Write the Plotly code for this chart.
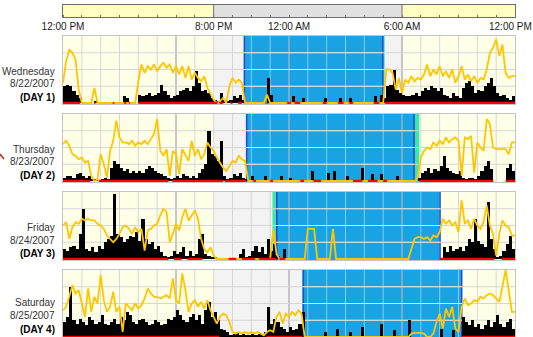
import math
import plotly.graph_objects as go

# ---------------- data ----------------
TICK_HOURS = [0, 8, 12, 18, 24]          # hours after 12:00 PM
TICK_TEXT = ["12:00 PM", "8:00 PM", "12:00 AM", "6:00 AM", "12:00 PM"]
PERIODS = [(0, 8, "light"), (8, 18, "dark"), (18, 24, "light")]

DAY_NAMES = ["Wednesday", "Thursday", "Friday", "Saturday"]
DATES = ["8/22/2007", "8/23/2007", "8/24/2007", "8/25/2007"]
DAY_TAGS = ["(DAY 1)", "(DAY 2)", "(DAY 3)", "(DAY 4)"]

# sleep interval (blue) and the transition strip (green), in hours after noon
SLEEP = [(9.63, 16.98), (9.75, 18.64), (11.35, 20.02), (12.76, 21.17)]
TRANSITION = [(16.98, 17.08), (18.64, 18.92), (11.12, 11.35), (12.70, 12.76)]
MARKERS = [[9.58], [], [], [0.64]]

# light level, 10-minute epochs (144 per day)
LIGHT1 = [1.2, 2.5, 3.2, 3.0, 2.6, 0.8, 0, 0, 0, 0, 0.9, 0,
          0, 0, 0, 0, 0, 0, 0, 0, 0, 0, 0, 0,
          1.3, 2.3, 1.8, 2.2, 2.0, 2.3, 1.9, 2.2, 2.4, 2.1, 2.3, 1.8,
          2.2, 1.7, 2.2, 1.5, 2.2, 1.4, 1.8, 1.5, 1.3, 1.6, 0.9, 0.5,
          0.2, 0, 0.1, 0.3, 0, 1.0, 1.5, 1.2, 1.4, 1.2, 0, 0,
          0, 0, 0, 0, 0, 0.5, 0, 0, 0, 0, 0, 0,
          0, 0, 0, 0, 0, 0, 0, 0, 0, 0, 0, 0,
          0, 0, 0, 0, 0, 0, 0, 0, 0, 0, 0, 0,
          0, 0, 0, 0, 0, 0, 0, 2.0, 2.0, 1.8, 0.8, 1.5,
          0.6, 1.4, 1.2, 1.6, 1.3, 1.5, 1.4, 1.7, 2.3, 1.6, 2.0, 1.7,
          2.2, 1.6, 1.9, 1.5, 2.0, 1.2, 1.6, 2.2, 1.4, 1.7, 1.3, 1.6,
          1.2, 1.5, 1.4, 2.0, 3.0, 3.3, 3.8, 2.8, 3.5, 1.8, 1.5, 1.6]
LIGHT2 = [2.2, 2.4, 2.1, 1.6, 1.5, 1.3, 1.4, 1.1, 1.2, 0.3, 0, 0.1,
          1.6, 1.0, 0.2, 1.8, 2.4, 3.6, 2.6, 2.3, 2.3, 2.2, 2.4, 2.1,
          2.3, 2.2, 2.4, 2.2, 2.5, 2.8, 3.7, 1.8, 1.5, 1.9, 0.3, 1.8,
          1.6, 0.4, 1.9, 1.5, 1.2, 2.4, 1.5, 1.9, 1.3, 1.6, 2.3, 2.0,
          1.8, 1.4, 1.1, 0.8, 0.6, 0.9, 1.2, 1.1, 1.5, 1.3, 1.2, 0,
          0, 0, 0, 0, 0, 0, 0, 0, 0, 0, 0, 0,
          0, 0, 0, 0, 0, 0, 0, 0, 0, 0, 0, 0,
          0, 0, 0, 0, 0, 0, 0, 0, 0, 0, 0, 0,
          0, 0, 0, 0, 0, 0, 0, 0, 0, 0, 0, 0,
          0, 0, 0, 0, 0, 0.2, 1.4, 1.8, 2.0, 1.9, 2.3, 2.1,
          2.4, 2.2, 2.6, 2.3, 2.5, 2.6, 2.4, 0.3, 2.6, 2.5, 2.7, 0.5,
          2.3, 2.0, 1.8, 3.7, 3.4, 2.0, 1.9, 1.9, 1.9, 1.9, 1.6, 2.3]
LIGHT3 = [2.0, 2.2, 1.2, 1.9, 2.2, 2.1, 2.4, 2.3, 2.4, 2.3, 2.3, 2.1,
          2.0, 1.8, 1.4, 1.2, 1.0, 1.2, 1.5, 1.9, 2.0, 1.8, 1.5, 1.9,
          1.6, 1.8, 0.5, 1.7, 1.8, 2.0, 2.1, 2.6, 3.0, 2.8, 1.0, 1.5,
          2.1, 1.7, 2.5, 3.0, 2.3, 2.6, 2.9, 2.4, 1.2, 0.6, 0.4, 0.7,
          0.2, 0, 0, 0, 0, 0, 0, 0, 0, 0, 0, 0,
          0, 0, 0, 0, 0, 0, 0, 1.8, 0.3, 0, 0, 0,
          0, 0, 0, 0, 0, 0, 1.8, 1.8, 1.8, 0, 0, 0,
          0, 0, 1.8, 0, 0, 0, 0, 0, 0, 0, 0, 0,
          0, 0, 0, 0, 0, 0, 0, 0, 0, 0, 0, 0,
          0, 0, 0, 0.6, 1.2, 1.3, 1.3, 1.2, 1.3, 1.1, 1.4, 1.3,
          1.6, 2.4, 2.1, 2.3, 2.0, 2.2, 1.6, 3.5, 2.1, 2.3, 1.8, 2.4,
          2.0, 1.8, 2.2, 3.2, 2.0, 1.5, 0.2, 1.5, 2.3, 2.0, 1.9, 1.4]
LIGHT4 = [1.6, 1.8, 2.4, 3.1, 2.6, 2.8, 2.0, 1.2, 2.9, 1.5, 2.4, 2.0,
          3.7, 2.2, 1.5, 1.8, 2.7, 1.5, 1.8, 0.3, 2.0, 1.8, 1.6, 2.0,
          1.7, 1.9, 2.3, 2.9, 2.6, 2.4, 2.4, 2.3, 2.4, 2.5, 2.3, 3.5,
          2.2, 2.0, 3.8, 2.8, 1.5, 2.0, 2.2, 1.8, 2.1, 1.7, 2.2, 1.6,
          1.2, 0.8, 1.2, 1.4, 1.3, 0.9, 0.3, 0.2, 0.3, 0.2, 0.3, 0.2,
          0.3, 0.2, 0.3, 0.2, 0.1, 0.3, 0.4, 0.3, 1.2, 1.5, 0.8, 1.4,
          1.2, 1.5, 1.3, 1.6, 1.4, 0, 0, 0, 0, 0, 0, 0,
          0, 0, 0, 0, 0, 0, 0, 0, 0, 0, 0, 0,
          0, 0, 0, 0, 0, 0, 0, 0, 0, 0, 0, 0,
          0, 0, 0, 0.2, 0.25, 0.25, 0.25, 0.2, 0, 0, 0.2, 0.9,
          1.4, 0.5, 1.7, 1.2, 1.8, 0.5, 0.3, 1.8, 2.3, 1.9, 2.0, 2.2,
          2.1, 2.4, 2.3, 2.5, 2.6, 2.5, 2.3, 2.1, 3.0, 4.0, 2.8, 1.5]

# activity counts (scaled), 10-minute epochs
ACT1 = [1.0, 1.1, 1.0, 0.7, 0.5, 0.3, 0, 0, 0, 0, 0.1, 0,
        0, 0, 0, 0, 0, 0, 0, 0.4, 0.3, 0, 0, 0,
        0.5, 0.4, 0.5, 0.6, 0.4, 0.5, 0.6, 1.1, 0.7, 0.5, 0.3, 0.4,
        0.5, 0.7, 0.8, 0.9, 0.7, 1.0, 1.9, 1.2, 0.7, 0.8, 0.6, 0.3,
        0.2, 0.1, 0.6, 0.2, 0.1, 0.2, 0.4, 0.3, 0.5, 0.2, 0, 0,
        0, 0, 0, 0, 0, 1.5, 0.5, 0, 0, 0, 0, 0,
        0, 0.4, 0, 0, 0.3, 0, 0, 0, 0, 0, 0, 0.3,
        0, 0, 0, 0, 0.3, 0, 0, 0.3, 0, 0, 0, 0,
        0, 0, 0, 0.4, 0, 0.5, 0.3, 1.0, 1.1, 2.0, 0.8, 0.6,
        0.5, 0.4, 0.4, 0.5, 0.6, 0.4, 0.7, 0.9, 0.8, 1.0, 0.9, 0.7,
        0.9, 0.5, 0.4, 0.3, 0.6, 0.4, 0.3, 0.9, 1.2, 1.3, 1.0, 0.6,
        0.8, 0.7, 1.0, 1.2, 1.5, 1.0, 0.6, 0.4, 0.5, 0.3, 0.2, 0.4]
ACT2 = [0.2, 0.3, 0.3, 0.2, 0.4, 0.5, 0.3, 0.2, 0.3, 0.1, 0.1, 0,
        0.1, 0.2, 0.1, 0.8, 1.2, 1.0, 0.8, 0.6, 0.7, 0.5, 0.6, 0.5,
        0.6, 0.5, 0.7, 0.9, 0.8, 0.6, 0.5, 0.4, 0.3, 0.2, 0.1, 0.2,
        0.3, 0.2, 0.4, 0.3, 0.2, 0.3, 0.2, 0.5, 0.7, 1.0, 3.0, 1.6,
        1.5, 1.2, 2.4, 0.3, 0.1, 0.2, 0.4, 0.3, 0.5, 0.2, 0.1, 0,
        0.3, 0, 0, 0, 0.3, 0, 0, 0, 0, 0.3, 0, 0,
        0.2, 0, 0, 0, 0, 0, 0, 0.6, 0, 0, 0, 0,
        0.5, 0, 0.6, 0, 0, 0, 0.3, 0, 0, 0, 0, 0.8,
        0, 0, 0.4, 0, 0, 0.4, 0, 0, 0, 0, 0.3, 0,
        0, 0, 0, 0, 0, 0.2, 0.5, 0.6, 0.8, 0.5, 0.7, 0.6,
        0.9, 1.5, 0.8, 0.6, 0.5, 0.4, 0.6, 0.2, 0.1, 0.2, 0.2, 0.1,
        0.3, 0.6, 0.9, 1.2, 0.7, 0, 0, 0, 0, 0.8, 1.0, 0.6]
ACT3 = [0.6, 0.5, 0.7, 0.8, 0.6, 1.5, 3.0, 0.6, 0.5, 0.7, 0.4, 0.8,
        0.6, 1.0, 1.2, 1.4, 3.9, 1.5, 1.3, 1.0, 1.2, 1.4, 1.3, 1.6,
        1.1, 2.4, 1.2, 0.9, 1.0, 0.6, 0.8, 0.4, 0.2, 0.1, 0.2, 0.5,
        0.3, 0.4, 0.7, 0.2, 0.5, 0.2, 0.3, 1.2, 1.5, 0.3, 0.2, 0.1,
        0.1, 0, 0, 0, 0, 0, 0, 0, 0.3, 0.6, 0.1, 0.2,
        0.5, 0.8, 0.4, 0.7, 0.3, 1.2, 0.5, 0.9, 0.2, 0, 0.6, 0,
        0, 0, 0, 0, 0, 0, 0, 0, 0, 0, 0, 0,
        0, 0, 0, 0, 0, 0, 0, 0, 0, 0, 0, 0,
        0, 0, 0, 0, 0, 0, 0, 0, 0, 0, 0, 0,
        0, 0, 0, 0, 0, 0, 0, 0, 0, 0, 0, 0,
        0, 0.7, 0.4, 0.8, 0.5, 0.6, 0.7, 0.5, 0.8, 1.2, 1.0, 2.4,
        1.1, 0.9, 0.7, 3.4, 1.2, 0.6, 0.1, 0.2, 0.5, 0.9, 1.4, 0.6]
ACT4 = [0.9, 1.2, 3.0, 1.0, 0.8, 1.1, 0.9, 0.7, 1.2, 1.0, 0.8, 0.9,
        1.3, 0.8, 0.7, 0.9, 1.1, 0.8, 1.2, 1.0, 1.5, 1.3, 0.9, 0.8,
        1.0, 1.1, 0.9, 0.7, 0.8, 1.0, 0.9, 0.7, 0.8, 1.1, 1.0, 1.2,
        1.6, 1.3, 1.0, 0.9, 1.2, 1.4, 1.0, 1.3, 0.8, 1.6, 2.1, 1.2,
        1.5, 1.0, 0.5, 0.4, 0.3, 0.1, 0.2, 0.3, 0.1, 0.2, 0.1, 0.1,
        0.2, 0.1, 0.2, 0.2, 0.3, 1.8, 0.8, 1.1, 0.9, 0.6, 0.5, 0.3,
        0.6, 0.4, 0.5, 0.8, 1.5, 0, 0, 0, 0, 0, 0, 0.3,
        0, 0, 0, 0.5, 0, 0, 0, 0.3, 0, 0, 0, 0.6,
        0, 0, 0, 0, 0, 0.8, 0, 0, 0, 0.4, 0, 0,
        0, 0, 1.0, 0, 0, 0, 0, 0, 0, 0, 0, 0,
        0.5, 0, 0, 0, 0.4, 0, 0, 1.2, 0.9, 0.7, 1.0, 0.6,
        0.8, 0.5, 0.7, 1.0, 0.6, 0.9, 1.3, 0.8, 0.6, 0.9, 1.1, 0.5]

# wake-scored intervals (red baseline), hours after noon
WAKE1 = [(0, 0.9), (1.65, 1.72), (2.65, 2.72), (3.25, 3.35), (3.5, 3.55), (4.0, 8.2),
         (8.3, 8.5), (8.9, 9.0), (9.3, 9.5), (11.9, 12.1), (12.3, 12.6), (13.8, 14.0),
         (14.6, 14.9), (15.2, 15.4), (16.5, 16.8), (17.1, 24)]
WAKE2 = [(0, 1.45), (1.9, 5.6), (5.8, 8.5), (8.6, 9.7), (10.1, 10.25), (11.0, 11.15),
         (12.6, 12.8), (13.3, 13.7), (15.4, 15.9), (16.2, 16.7), (17.0, 17.2),
         (18.92, 22.85), (23.5, 24)]
WAKE3 = [(0, 5.6), (5.9, 6.3), (6.6, 7.4), (8.8, 9.2), (9.5, 10.2), (10.4, 11.3),
         (11.5, 11.8), (20.02, 22.9), (23.3, 24)]
WAKE4 = [(0, 8.3), (10.8, 12.7), (21.17, 24)]

LIGHT = [LIGHT1, LIGHT2, LIGHT3, LIGHT4]
ACT = [ACT1, ACT2, ACT3, ACT4]
WAKE = [WAKE1, WAKE2, WAKE3, WAKE4]

# ---------------- layout constants ----------------
W, H = 533, 337
XL, XR = 63, 515
PANEL_TOP = [36, 114, 192, 270]
PANEL_H = 68
YMIN, YMAX = -0.06, 4.0
LABEL_OFFSETS = [-33, -20, -6.3]
FONT = "Liberation Sans, Arial, sans-serif"
GRID = "#D6D6D6"
DAYBG = "#FFFFE8"
NIGHTBG = "#F3F3F3"
BLUE = "#1AA3E2"
GREEN = "#3FE6A6"
EDGE = "#2448D8"
YEL = "#FFC600"
WHITE_GRID = "rgba(255,255,255,0.45)"


def py(px):
    return 1 - px / H


fig = go.Figure()
layout = dict(width=W, height=H, margin=dict(l=0, r=0, t=0, b=0, pad=0, autoexpand=False),
              paper_bgcolor="white", plot_bgcolor="rgba(0,0,0,0)",
              showlegend=False, bargap=0,
              font=dict(family=FONT, size=10, color="#333333"))
shapes = []
annotations = []


def vline(xr, yr, x, color, width):
    return dict(type="line", xref=xr, yref=f"{yr} domain", x0=x, x1=x, y0=0, y1=1,
                line=dict(color=color, width=width), layer="below")


EPOCH = 1 / 6
for k in range(4):
    ax = "" if k == 0 else str(k + 1)
    xr, yr = f"x{ax}", f"y{ax}"
    top = PANEL_TOP[k]
    bot = top + PANEL_H
    bot_vis = min(bot, H)
    lo = YMIN + (bot - bot_vis) * (YMAX - YMIN) / PANEL_H
    layout[f"xaxis{ax}"] = dict(domain=[XL / W, XR / W], range=[0, 24], anchor=yr, automargin=False,
                                showticklabels=False, ticks="", showgrid=False, zeroline=False,
                                showline=True, mirror=True, linecolor="#C4C4C4")
    layout[f"yaxis{ax}"] = dict(domain=[py(bot_vis), py(top)], range=[lo, YMAX], anchor=xr, automargin=False,
                                showticklabels=False, ticks="", showgrid=False, zeroline=False,
                                showline=True, mirror=True, linecolor="#C4C4C4")

    # background light/dark periods
    for a, b, kind in PERIODS:
        shapes.append(dict(type="rect", xref=xr, yref=f"{yr} domain", x0=a, x1=b, y0=0, y1=1,
                           fillcolor=DAYBG if kind == "light" else NIGHTBG,
                           line=dict(width=0), layer="below"))
    # hourly grid
    for h in range(1, 24):
        shapes.append(vline(xr, yr, h, GRID, 1))
    for yv in (1, 2, 3):
        shapes.append(dict(type="line", xref=xr, yref=yr, x0=0, x1=24, y0=yv, y1=yv,
                           line=dict(color=GRID, width=1), layer="below"))
    # sleep block
    s, e = SLEEP[k]
    g0, g1 = TRANSITION[k]
    shapes.append(dict(type="rect", xref=xr, yref=f"{yr} domain", x0=s, x1=e, y0=0, y1=1,
                       fillcolor=BLUE, line=dict(width=0), layer="below"))
    shapes.append(dict(type="rect", xref=xr, yref=f"{yr} domain", x0=g0, x1=g1, y0=0, y1=1,
                       fillcolor=GREEN, line=dict(width=0), layer="below"))
    for yv in (1, 2, 3):
        shapes.append(dict(type="line", xref=xr, yref=yr, x0=s, x1=e, y0=yv, y1=yv,
                           line=dict(color=WHITE_GRID, width=1), layer="below"))
    for h in range(math.ceil(s), math.floor(e) + 1):
        if s < h < e:
            shapes.append(vline(xr, yr, h, WHITE_GRID, 1))
    # 6-hour reference lines
    for h in (6, 12, 18):
        shapes.append(vline(xr, yr, h, "#A4A4A4", 1))
    for h in (s, e):
        shapes.append(vline(xr, yr, h, EDGE, 1.5))

    # activity bars
    fig.add_trace(go.Bar(x=[i * EPOCH + EPOCH / 2 for i in range(len(ACT[k]))], y=ACT[k],
                         width=EPOCH, marker=dict(color="black", line=dict(width=0)),
                         xaxis=xr, yaxis=yr, hoverinfo="skip"))
    # light line
    lx = [i * EPOCH for i in range(len(LIGHT[k]))] + [24]
    ly = LIGHT[k] + [LIGHT[k][-1]]
    fig.add_trace(go.Scatter(x=lx, y=ly, mode="lines",
                             line=dict(color=YEL, width=1.8),
                             xaxis=xr, yaxis=yr, hoverinfo="skip"))
    # wake baseline
    rx, ry = [], []
    for a, b in WAKE[k]:
        rx += [a, b, None]
        ry += [0, 0, None]
    fig.add_trace(go.Scatter(x=rx, y=ry, mode="lines", line=dict(color="#FF0000", width=2.5),
                             xaxis=xr, yaxis=yr, hoverinfo="skip"))
    if MARKERS[k]:
        fig.add_trace(go.Scatter(x=MARKERS[k], y=[YMAX + 0.14] * len(MARKERS[k]), mode="markers",
                                 marker=dict(symbol="triangle-down", size=7, color="#2233EE"),
                                 cliponaxis=False, xaxis=xr, yaxis=yr, hoverinfo="skip"))

    # left labels
    anchor_px = min(bot, H - 1.5)
    for txt, off, bold in zip((DAY_NAMES[k], DATES[k], DAY_TAGS[k]), LABEL_OFFSETS, (False, False, True)):
        annotations.append(dict(x=57 / W, y=py(anchor_px + off), xref="paper", yref="paper",
                                xanchor="right", yanchor="middle", showarrow=False,
                                text=f"<b>{txt}</b>" if bold else txt,
                                font=dict(family=FONT, size=10, color="#000000" if bold else "#333333")))

# top light/dark bar with hour axis (last label placed flush with the right edge so it is not cut)
layout["xaxis5"] = dict(domain=[XL / W, XR / W], range=[0, 24], anchor="y5", automargin=False,
                        tickmode="array", tickvals=TICK_HOURS[:-1], ticktext=TICK_TEXT[:-1], ticks="",
                        showgrid=False, zeroline=False, showline=True, mirror=True,
                        linecolor="#6E6E6E", tickfont=dict(family=FONT, size=10, color="#1A1A1A"),
                        minor=dict(tickmode="linear", tick0=0, dtick=1, ticks="inside",
                                   ticklen=2, tickcolor="#6E6E6E", showgrid=False))
layout["yaxis5"] = dict(domain=[py(17), py(5)], range=[0, 1], anchor="x5", automargin=False,
                        showticklabels=False, ticks="", showgrid=False, zeroline=False,
                        showline=True, mirror=True, linecolor="#6E6E6E")
annotations.append(dict(x=1, y=py(26), xref="paper", yref="paper", xanchor="right", yanchor="middle",
                        showarrow=False, text=TICK_TEXT[-1], borderpad=0,
                        font=dict(family=FONT, size=10, color="#1A1A1A")))
for a, b, kind in PERIODS:
    shapes.append(dict(type="rect", xref="x5", yref="y5 domain", x0=a, x1=b, y0=0, y1=1,
                       fillcolor="#FFFFC2" if kind == "light" else "#E0E0E0",
                       line=dict(width=0), layer="below"))
for a, b, kind in PERIODS[1:]:
    shapes.append(dict(type="line", xref="x5", yref="y5 domain", x0=a, x1=a, y0=0, y1=1,
                       line=dict(color="#6E6E6E", width=1)))

# small red pen mark on the left margin
shapes.append(dict(type="line", xref="paper", yref="paper", x0=0, x1=4 / W, y0=py(154), y1=py(159),
                   line=dict(color="#E02020", width=1.5)))

layout["shapes"] = shapes
layout["annotations"] = annotations
fig.update_layout(**layout)
fig.write_html("out.html", config={"displayModeBar": False},
               post_script="document.body.style.margin='0';document.body.style.overflow='hidden';")
